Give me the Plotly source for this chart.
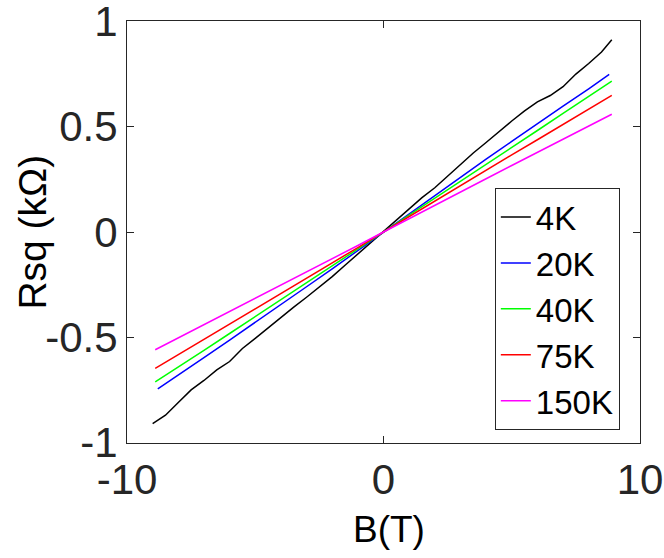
import plotly.graph_objects as go

# ---- data ----
B_4K = [-9, -8.5, -8, -7.5, -7, -6.5, -6, -5.5, -5, -4.5, -4, -3.5, -3, -2.5, -2, -1.5, -1, -0.5,
        0, 0.5, 1, 1.5, 2, 2.5, 3, 3.5, 4, 4.5, 5, 5.5, 6, 6.5, 7, 7.5, 8, 8.5, 8.9]
R_4K = [-0.91, -0.87, -0.81, -0.75, -0.705, -0.655, -0.615, -0.553, -0.505, -0.455, -0.403, -0.357,
        -0.31, -0.262, -0.212, -0.158, -0.105, -0.052,
        0.0, 0.055, 0.108, 0.163, 0.21, 0.266, 0.322, 0.375, 0.425, 0.478, 0.527, 0.575, 0.618,
        0.648, 0.69, 0.75, 0.80, 0.855, 0.913]

B_20K = [-8.8, -8, -7, -6, -5, -4, -3, -2, -1, 0, 1, 2, 3, 4, 5, 6, 7, 8, 8.8]
R_20K = [-0.745, -0.68, -0.597, -0.513, -0.43, -0.345, -0.26, -0.175, -0.088, 0.0,
         0.088, 0.176, 0.262, 0.346, 0.43, 0.515, 0.598, 0.68, 0.748]

B_STD = [-8.9, -8, -7, -6, -5, -4, -3, -2, -1, 0, 1, 2, 3, 4, 5, 6, 7, 8, 8.9]
R_40K = [-0.712, -0.642, -0.562, -0.482, -0.402, -0.322, -0.242, -0.162, -0.081, 0.0,
         0.081, 0.162, 0.242, 0.322, 0.402, 0.482, 0.563, 0.643, 0.716]
R_75K = [-0.648, -0.583, -0.511, -0.438, -0.366, -0.293, -0.22, -0.147, -0.074, 0.0,
         0.074, 0.147, 0.22, 0.293, 0.366, 0.438, 0.511, 0.584, 0.649]
R_150K = [-0.559, -0.503, -0.441, -0.379, -0.316, -0.253, -0.19, -0.127, -0.064, 0.0,
          0.064, 0.127, 0.19, 0.253, 0.316, 0.379, 0.441, 0.503, 0.559]

SERIES = [
    ("4K", B_4K, R_4K, "#000000"),
    ("20K", B_20K, R_20K, "#0000ff"),
    ("40K", B_STD, R_40K, "#00ff00"),
    ("75K", B_STD, R_75K, "#ff0000"),
    ("150K", B_STD, R_150K, "#ff00ff"),
]

X_TICKS = [-10, 0, 10]
Y_TICKS = [-1, -0.5, 0, 0.5, 1]
Y_TICK_TEXT = ["-1", "-0.5", "0", "0.5", "1"]

FONT = "Liberation Sans, Arial, Helvetica, sans-serif"
AX = "#262626"

fig = go.Figure()
for name, bx, ry, col in SERIES:
    fig.add_trace(go.Scatter(x=bx, y=ry, mode="lines", name=name,
                             line=dict(color=col, width=1.5)))

fig.update_layout(
    width=664, height=558,
    margin=dict(l=127, r=24, t=21, b=115),
    plot_bgcolor="white", paper_bgcolor="white",
    font=dict(family=FONT, color=AX),
    showlegend=True,
    legend=dict(x=0.717, y=0.604, xanchor="left", yanchor="top",
                bgcolor="white", bordercolor=AX, borderwidth=1,
                font=dict(size=33, color="#000000", family=FONT),
                tracegroupgap=0, itemwidth=30, entrywidth=90, entrywidthmode="pixels"),
    annotations=[
        dict(text="B(T)", xref="paper", yref="paper", x=0.51, y=-0.206,
             xanchor="center", yanchor="middle", showarrow=False,
             font=dict(size=37, color="#000000", family=FONT)),
        dict(text="Rsq (kΩ)", xref="paper", yref="paper", x=-0.186, y=0.5,
             xanchor="center", yanchor="middle", showarrow=False, textangle=-90,
             font=dict(size=39, color="#000000", family=FONT)),
    ],
)
fig.update_xaxes(range=[-10, 10], tickvals=X_TICKS, ticktext=[str(v) for v in X_TICKS],
                 ticks="inside", ticklen=7, tickcolor=AX, tickwidth=1,
                 showline=True, linecolor=AX, linewidth=1, mirror="ticks",
                 showgrid=False, zeroline=False, automargin=False,
                 tickfont=dict(size=42, color=AX, family=FONT))
fig.update_yaxes(range=[-1.002, 1.002], tickvals=Y_TICKS, ticktext=Y_TICK_TEXT,
                 ticks="inside", ticklen=7, tickcolor=AX, tickwidth=1,
                 showline=True, linecolor=AX, linewidth=1, mirror="ticks",
                 showgrid=False, zeroline=False, automargin=False,
                 ticklabeloverflow="allow",
                 tickfont=dict(size=42, color=AX, family=FONT))

fig.write_html("out.html", config={"displayModeBar": False},
               post_script="document.body.style.margin='0';document.body.style.padding='0';")
